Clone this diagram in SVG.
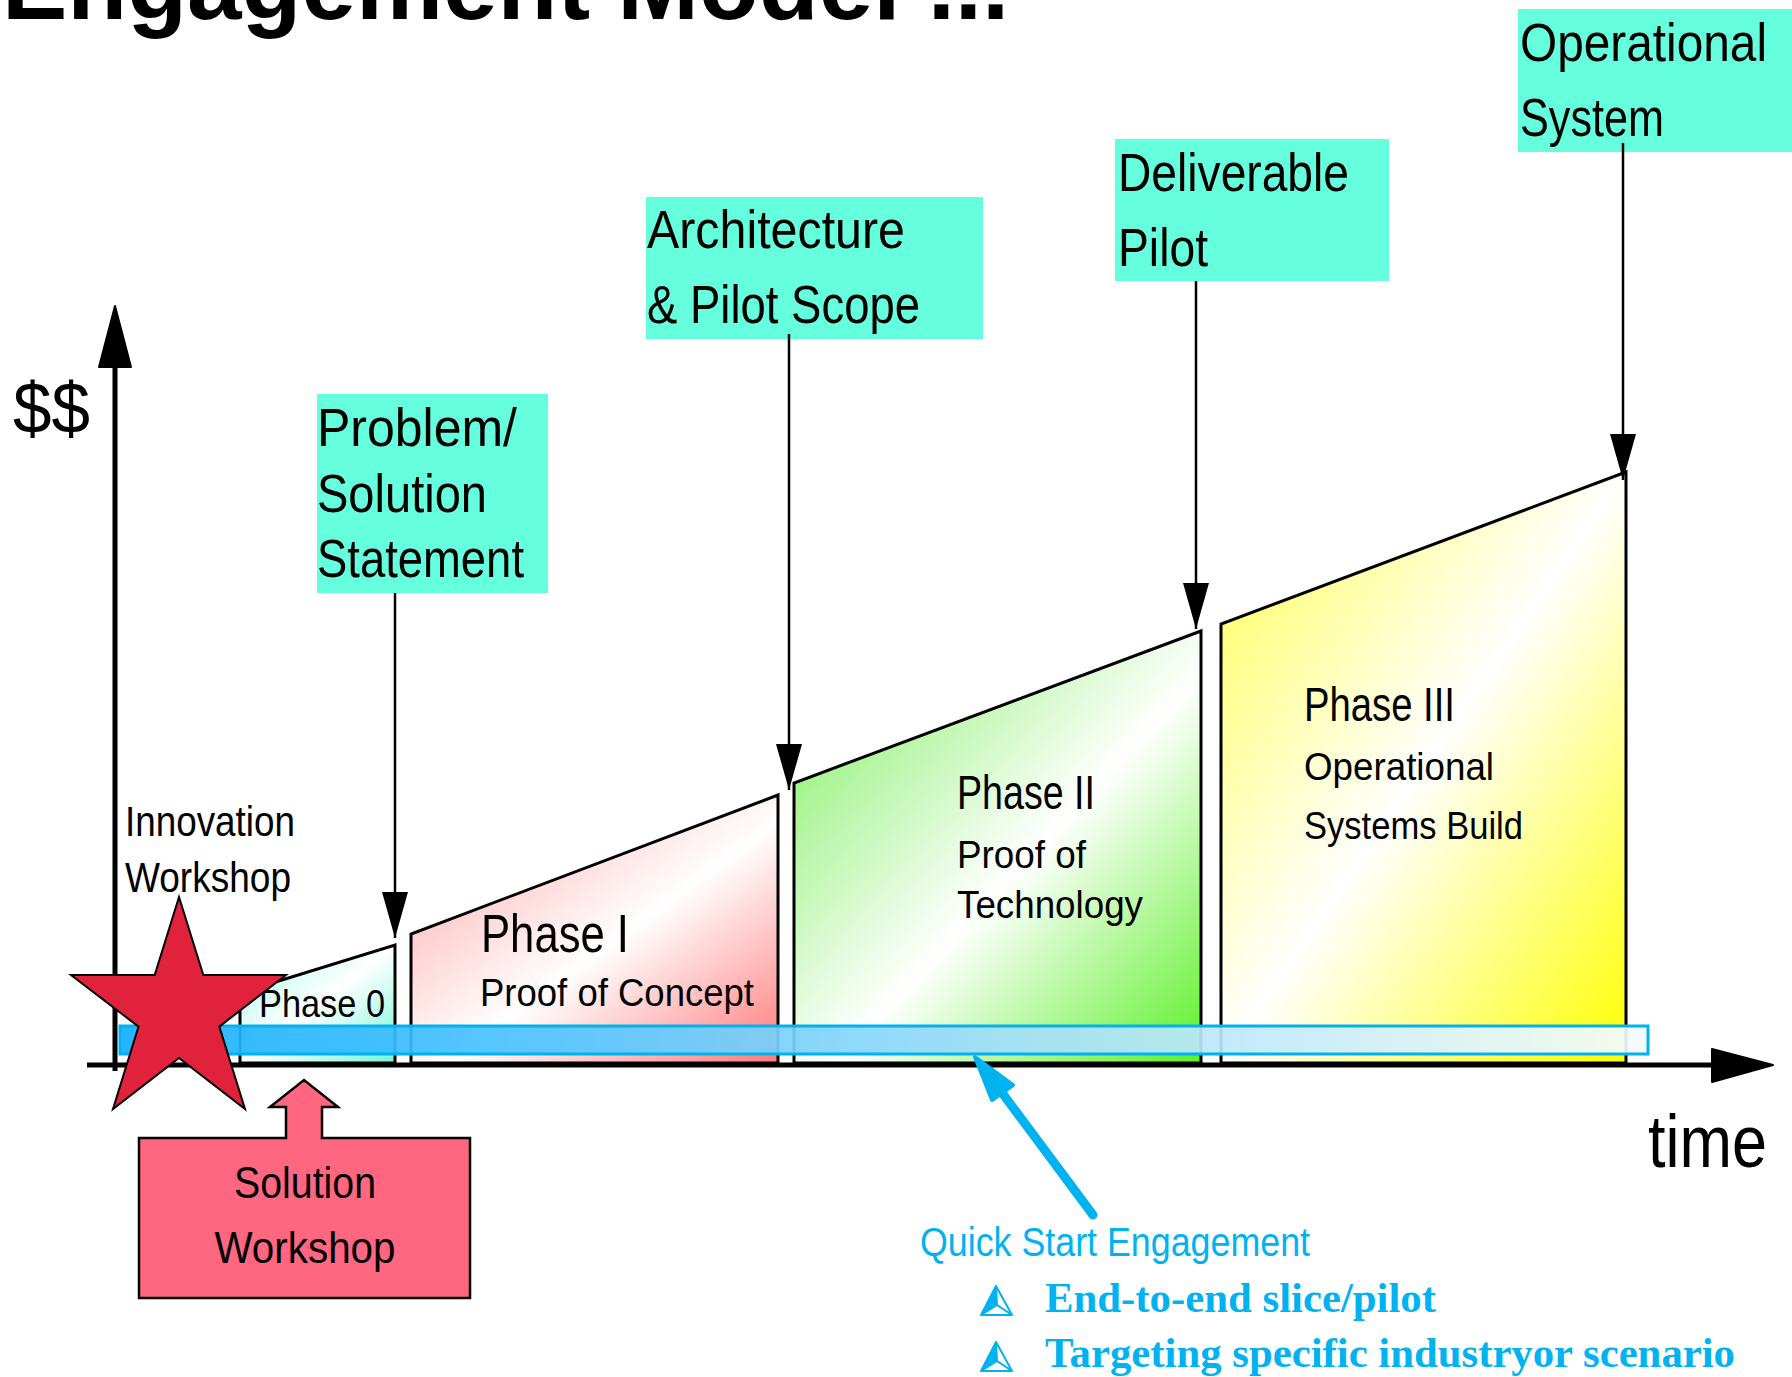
<svg xmlns="http://www.w3.org/2000/svg" width="1792" height="1377" viewBox="0 0 1792 1377">
<style>
.t{font-family:"Liberation Sans",Arial,sans-serif;fill:#000}
.box{fill:#66FFDD}
.ph{stroke:#000;stroke-width:3;stroke-linejoin:miter}
.conn{stroke:#000;stroke-width:2.5;fill:none}
.blue{fill:#00B2F0}
.b{font-family:"Liberation Serif","Times New Roman",serif;font-weight:bold;fill:#00B2F0;font-size:42px}
</style>
<defs>
<linearGradient id="g0" x1="0" y1="0" x2="1" y2="1"><stop offset="0" stop-color="#A0FFE8"/><stop offset="0.5" stop-color="#FFFFFF"/><stop offset="1" stop-color="#74F6D8"/></linearGradient>
<linearGradient id="g1" x1="0" y1="0" x2="1" y2="1"><stop offset="0" stop-color="#FFA0A0"/><stop offset="0.55" stop-color="#FFFFFF"/><stop offset="1" stop-color="#FF7A7A"/></linearGradient>
<linearGradient id="g2" x1="0" y1="0" x2="1" y2="1"><stop offset="0" stop-color="#78EE58"/><stop offset="0.55" stop-color="#FFFFFF"/><stop offset="1" stop-color="#5CF028"/></linearGradient>
<linearGradient id="g3" x1="0" y1="0" x2="1" y2="1"><stop offset="0" stop-color="#FFFF50"/><stop offset="0.5" stop-color="#FFFFFF"/><stop offset="1" stop-color="#FFFF00"/></linearGradient>
<linearGradient id="gb" x1="0" y1="0" x2="1" y2="0"><stop offset="0" stop-color="#12AFFF"/><stop offset="0.3" stop-color="#55C6FF"/><stop offset="0.6" stop-color="#A6E0F8"/><stop offset="1" stop-color="#F4FBFF"/></linearGradient>
<marker id="ah" markerUnits="userSpaceOnUse" viewBox="0 0 46 26" refX="46" refY="13" markerWidth="46" markerHeight="26" orient="auto"><path d="M0,0 L46,13 L0,26 Z" fill="#000"/></marker>
</defs>
<rect width="1792" height="1377" fill="#FFFFFF"/>

<g id="title"><text class="t" x="2" y="19" font-size="98" font-weight="bold">Engagement Model ...</text></g>

<g id="phase0"><polygon class="ph" points="240,1063 240,993 395,945 395,1063" fill="url(#g0)"/>
<text class="t" x="259" y="1017" font-size="39" textLength="126" lengthAdjust="spacingAndGlyphs">Phase 0</text></g>

<g id="phase1"><polygon class="ph" points="411,1063 411,934 778,795 778,1063" fill="url(#g1)"/>
<text class="t" x="481" y="952" font-size="53" textLength="148" lengthAdjust="spacingAndGlyphs">Phase I</text>
<text class="t" x="480" y="1006" font-size="39" textLength="274" lengthAdjust="spacingAndGlyphs">Proof of Concept</text></g>

<g id="phase2"><polygon class="ph" points="794,1063 794,783 1201,631 1201,1063" fill="url(#g2)"/>
<text class="t" x="957" y="809" font-size="48" textLength="138" lengthAdjust="spacingAndGlyphs">Phase II</text>
<text class="t" x="957" y="868" font-size="38" textLength="129" lengthAdjust="spacingAndGlyphs">Proof of</text>
<text class="t" x="957" y="918" font-size="38" textLength="186" lengthAdjust="spacingAndGlyphs">Technology</text></g>

<g id="phase3"><polygon class="ph" points="1221,1063 1221,624 1626,472 1626,1063" fill="url(#g3)"/>
<text class="t" x="1304" y="721" font-size="48" textLength="151" lengthAdjust="spacingAndGlyphs">Phase III</text>
<text class="t" x="1304" y="780" font-size="38" textLength="190" lengthAdjust="spacingAndGlyphs">Operational</text>
<text class="t" x="1304" y="839" font-size="38" textLength="219" lengthAdjust="spacingAndGlyphs">Systems Build</text></g>

<g id="quickstart-bar"><rect x="120" y="1026" width="1528" height="28" fill="url(#gb)" fill-opacity="0.92" stroke="#00B2F0" stroke-width="3"/></g>

<g id="axes">
<line x1="115" y1="1071" x2="115" y2="360" stroke="#000" stroke-width="5"/>
<polygon points="115,306 99,367 131,367" fill="#000" stroke="#000" stroke-width="2" stroke-linejoin="round"/>
<line x1="87" y1="1065" x2="1716" y2="1065" stroke="#000" stroke-width="5"/>
<polygon points="1773,1065 1712,1049 1712,1082" fill="#000" stroke="#000" stroke-width="2" stroke-linejoin="round"/>
<text class="t" x="13" y="433" font-size="72" textLength="77" lengthAdjust="spacingAndGlyphs">$$</text>
<text class="t" x="1648" y="1167" font-size="74" textLength="119" lengthAdjust="spacingAndGlyphs">time</text>
</g>

<g id="innovation-workshop">
<text class="t" x="125" y="836" font-size="42" textLength="170" lengthAdjust="spacingAndGlyphs">Innovation</text>
<text class="t" x="125" y="892" font-size="42" textLength="166" lengthAdjust="spacingAndGlyphs">Workshop</text>
<polygon points="179,897 203.3,975 286,975 219.3,1026.6 245,1109 179,1058 113,1109 138.5,1026.6 71,975 154.7,975" fill="#E0223C" stroke="#000" stroke-width="2" stroke-linejoin="miter"/>
</g>

<g id="solution-workshop">
<path d="M139,1138 H286 V1107 H270 L304,1080 L338,1107 H322 V1138 H470 V1298 H139 Z" fill="#FF6680" stroke="#000" stroke-width="2.5"/>
<text class="t" x="305" y="1198" font-size="44" text-anchor="middle" textLength="142" lengthAdjust="spacingAndGlyphs">Solution</text>
<text class="t" x="305" y="1263" font-size="44" text-anchor="middle" textLength="181" lengthAdjust="spacingAndGlyphs">Workshop</text>
</g>

<g id="problem-solution">
<rect class="box" x="317" y="394" width="231" height="199"/>
<text class="t" x="317" y="446" font-size="54" textLength="200" lengthAdjust="spacingAndGlyphs">Problem/</text>
<text class="t" x="317" y="512" font-size="54" textLength="170" lengthAdjust="spacingAndGlyphs">Solution</text>
<text class="t" x="317" y="577" font-size="54" textLength="207" lengthAdjust="spacingAndGlyphs">Statement</text>
</g>

<g id="architecture">
<rect class="box" x="646" y="197" width="337" height="142"/>
<text class="t" x="647" y="248" font-size="54" textLength="258" lengthAdjust="spacingAndGlyphs">Architecture</text>
<text class="t" x="647" y="323" font-size="54" textLength="273" lengthAdjust="spacingAndGlyphs">&amp; Pilot Scope</text>
</g>

<g id="deliverable">
<rect class="box" x="1115" y="139" width="274" height="142"/>
<text class="t" x="1118" y="191" font-size="54" textLength="231" lengthAdjust="spacingAndGlyphs">Deliverable</text>
<text class="t" x="1118" y="266" font-size="54" textLength="90" lengthAdjust="spacingAndGlyphs">Pilot</text>
</g>

<g id="operational-system">
<rect class="box" x="1518" y="9" width="274" height="143"/>
<text class="t" x="1520" y="61" font-size="54" textLength="247" lengthAdjust="spacingAndGlyphs">Operational</text>
<text class="t" x="1520" y="136" font-size="54" textLength="144" lengthAdjust="spacingAndGlyphs">System</text>
</g>

<g id="connectors">
<line class="conn" x1="395" y1="593" x2="395" y2="938" marker-end="url(#ah)"/>
<line class="conn" x1="789" y1="334" x2="789" y2="790" marker-end="url(#ah)"/>
<line class="conn" x1="1196" y1="281" x2="1196" y2="629" marker-end="url(#ah)"/>
<line class="conn" x1="1623" y1="143" x2="1623" y2="480" marker-end="url(#ah)"/>
<line x1="1093" y1="1215" x2="1000" y2="1090" stroke="#00B2F0" stroke-width="9" stroke-linecap="round"/>
<polygon points="975,1057 992,1100 1013,1085" fill="#00B2F0" stroke="#00B2F0" stroke-width="4" stroke-linejoin="round"/>
</g>

<g id="quick-start-engagement">
<text class="t" x="920" y="1256" font-size="40" style="fill:#00B2F0" textLength="390" lengthAdjust="spacingAndGlyphs">Quick Start Engagement</text>
<g id="bullet1">
<polygon points="996,1286 981,1315 997,1305" fill="#00B2F0"/>
<path d="M996,1286 L981,1315 L1012,1315 Z M996,1286 L997,1305 M981,1315 L997,1305 L1012,1315" fill="none" stroke="#00B2F0" stroke-width="2" stroke-linejoin="round"/>
<text class="b" x="1045" y="1312" textLength="391" lengthAdjust="spacingAndGlyphs">End-to-end slice/pilot</text>
</g>
<g id="bullet2">
<polygon points="996,1342 981,1371 997,1361" fill="#00B2F0"/>
<path d="M996,1342 L981,1371 L1012,1371 Z M996,1342 L997,1361 M981,1371 L997,1361 L1012,1371" fill="none" stroke="#00B2F0" stroke-width="2" stroke-linejoin="round"/>
<text class="b" x="1045" y="1367" textLength="690" lengthAdjust="spacingAndGlyphs">Targeting specific industryor scenario</text>
</g>
</g>
</svg>
